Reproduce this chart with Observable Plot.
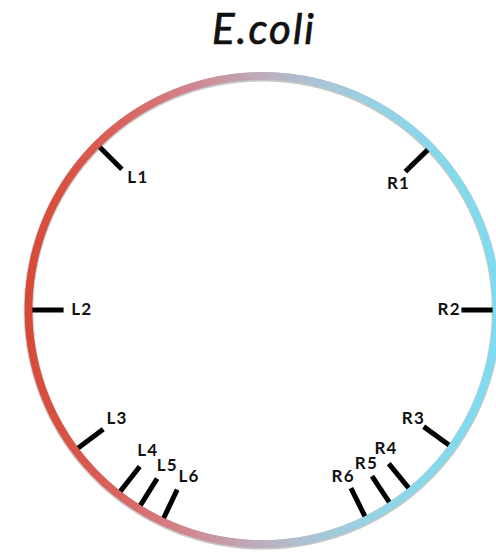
<!DOCTYPE html>
<html>
<head>
<meta charset="utf-8">
<script src="https://cdn.jsdelivr.net/npm/d3@7"></script>
<script src="https://cdn.jsdelivr.net/npm/@observablehq/plot@0.6"></script>
<style>
  html, body { margin: 0; padding: 0; background: #fff; }
  #title { height: 53px; padding-top: 3px; line-height: 56px; font: italic 42px Lato, sans-serif; letter-spacing: 2px; -webkit-text-stroke: 0.7px #111; text-align: center; padding-left: 32px; color: #111; overflow: hidden; }
  #chart svg { display: block; }
</style>
</head>
<body>
<div id="title">E.coli</div>
<div id="chart"></div>
<script>
// Marker names and their positions around the chromosome (degrees, counter-clockwise from the right)
const labels = ["L1", "L2", "L3", "L4", "L5", "L6", "R1", "R2", "R3", "R4", "R5", "R6"];
const angles = [135, 180, 216.8, 231.9, 238, 244.6, 44.1, 0, 324.1, 309.4, 303.4, 296.4];
// Angles at which each marker's name sits inside the ring
const labelAngles = [134, 180, 216.1, 230.1, 237.7, 245.4, 43.6, 0, 323.6, 311, 303.3, 295];
// Ring colour ramp, left (red) to right (cyan)
const rampColors = ["#d84a36", "#dc5a52", "#d4848e", "#bcb0c0", "#a0cfe0", "#88d8ea", "#7edcf0"];

const W = 496, H = 499, CX = 262, CY = 253.5, R = 234;
const rad = d => d * Math.PI / 180;
const ramp = d3.interpolateRgbBasis(rampColors);

const markers = labels.map((name, i) => ({name, angle: angles[i], labelAngle: labelAngles[i]}));
const segs = d3.range(0, 360, 1).map(a => {
  const x1 = Math.cos(rad(a)), y1 = Math.sin(rad(a));
  const x2 = Math.cos(rad(a + 1)), y2 = Math.sin(rad(a + 1));
  return {x1, y1, x2, y2, color: ramp(((x1 + x2) / 2 + 1) / 2)};
});
const ringPts = d3.range(0, 361, 1).map(a => ({rx: Math.cos(rad(a)), ry: Math.sin(rad(a))}));

const chart = Plot.plot({
  width: W,
  height: H,
  margin: 0,
  x: {domain: [-CX / R, (W - CX) / R], axis: null},
  y: {domain: [-(H - CY) / R, CY / R], axis: null},
  style: {background: "transparent", overflow: "visible"},
  marks: [
    Plot.link(markers, {
      x1: d => Math.cos(rad(d.angle)) * 1.0,
      y1: d => Math.sin(rad(d.angle)) * 1.0,
      x2: d => Math.cos(rad(d.angle)) * 0.85,
      y2: d => Math.sin(rad(d.angle)) * 0.85,
      stroke: "#000",
      strokeWidth: 5,
      strokeLinecap: "butt"
    }),
    Plot.line(ringPts, {x: "rx", y: "ry", stroke: "#444", strokeOpacity: 0.3, strokeWidth: 9.5, dy: 0.8}),
    Plot.link(segs, {x1: "x1", y1: "y1", x2: "x2", y2: "y2", stroke: "color", strokeWidth: 7.5, strokeLinecap: "round"}),
    Plot.text(markers, {
      x: d => Math.cos(rad(d.labelAngle)) * 0.785,
      y: d => Math.sin(rad(d.labelAngle)) * 0.785,
      text: "name",
      dx: 3,
      fontSize: 17,
      fontWeight: "bold",
      fontFamily: "Lato, sans-serif",
      fill: "#111",
      textAnchor: "middle",
      lineAnchor: "middle"
    })
  ]
});

d3.select(chart).selectAll("text").attr("letter-spacing", "1.2px");
document.getElementById("chart").appendChild(chart);
</script>
</body>
</html>
